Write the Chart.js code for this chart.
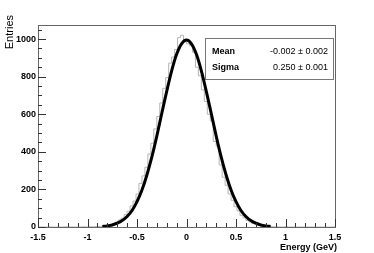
<!DOCTYPE html>
<html><head><meta charset="utf-8">
<script src="https://cdn.jsdelivr.net/npm/chart.js@4"></script>
<style>html,body{margin:0;padding:0;background:#fff;}canvas{display:block;}</style>
</head><body>
<canvas id="c" width="374" height="253"></canvas>
<script>
// Histogram: 100 bins of 0.03 GeV from -1.5 to 1.5 (counts)
const binLow = -1.5, binWidth = 0.03;
const histCounts = [
  0,0,0,0,0,0,0,0,0,0, 1,0,0,0,0,0,1,0,1,1,
  2,3,4,5,10,12,19,25,37,47, 66,84,112,138,175,232,272,318,388,446,
  522,588,660,738,795,872,905,945,1008,1020,
  985,975,965,930,850,805,730,668,600,565, 455,430,330,265,222,176,142,108,86,62,
  49,35,27,18,14,8,6,4,3,2, 1,1,0,0,1,0,0,0,0,0,
  0,0,0,0,0,0,0,0,0,0
];
const fitX = [-0.85,-0.8,-0.75,-0.7,-0.65,-0.6,-0.55,-0.5,-0.45,-0.4,-0.35,-0.3,-0.25,-0.2,-0.15,-0.1,-0.05,0,
              0.05,0.1,0.15,0.2,0.25,0.3,0.35,0.4,0.45,0.5,0.55,0.6,0.65,0.7,0.75,0.8,0.85];
const fitY = [3,6,11,20,34,56,88,135,197,277,373,484,604,722,831,919,975,995,
              975,919,831,722,604,484,373,277,197,135,88,56,34,20,11,6,3];
const xTickValues = [-1.5,-1,-0.5,0,0.5,1,1.5];
const xTickLabels = ['-1.5','-1','-0.5','0','0.5','1','1.5'];
const yTickValues = [0,200,400,600,800,1000];
const yTickLabels = ['0','200','400','600','800','1000'];
const statNames = ['Mean','Sigma'];
const statValues = ['-0.002 \u00b1 0.002','0.250 \u00b1 0.001'];
const xTitle = 'Energy (GeV)';
const yTitle = 'Entries';

const histPts = histCounts.map((v,i)=>({x: binLow + i*binWidth, y: v}));
histPts.push({x: binLow + histCounts.length*binWidth, y: histCounts[histCounts.length-1]});
const fitPts = fitX.map((x,i)=>({x, y: fitY[i]}));

const FONT = '"Liberation Sans", Arial, sans-serif';

const rootDeco = {
  id: 'rootDeco',
  afterDraw(chart){
    const ctx = chart.ctx, a = chart.chartArea;
    const xs = chart.scales.x, ys = chart.scales.y;
    ctx.save();
    // frame
    ctx.strokeStyle = '#666'; ctx.lineWidth = 1;
    ctx.strokeRect(Math.round(a.left)+0.5, Math.round(a.top)+0.5, Math.round(a.right-a.left), Math.round(a.bottom-a.top));
    ctx.strokeStyle = '#333';
    // x ticks (inside, upward)
    for (let i=0;i<=30;i++){
      const v = -1.5 + i*0.1;
      const major = i%5===0;
      const px = Math.round(xs.getPixelForValue(v))+0.5;
      ctx.beginPath(); ctx.moveTo(px, a.bottom); ctx.lineTo(px, a.bottom - (major?8:4)); ctx.stroke();
    }
    // y ticks (inside, rightward)
    for (let v=0; v<=1050; v+=50){
      const major = v%200===0;
      const py = Math.round(ys.getPixelForValue(v))+0.5;
      ctx.beginPath(); ctx.moveTo(a.left, py); ctx.lineTo(a.left + (major?8:4), py); ctx.stroke();
    }
    // stats box
    const bx = 205.5, by = 38.5, bw = 128, bh = 41;
    ctx.fillStyle = '#fff'; ctx.fillRect(bx, by, bw, bh);
    ctx.strokeStyle = '#777'; ctx.strokeRect(bx, by, bw, bh);
    ctx.fillStyle = '#000'; ctx.textBaseline = 'middle';
    ctx.font = 'bold 9px ' + FONT;
    ctx.textAlign = 'left';
    ctx.fillText(statNames[0], 212, 52);
    ctx.fillText(statNames[1], 212, 68);
    ctx.font = '9px ' + FONT;
    ctx.textAlign = 'right';
    ctx.fillText(statValues[0], 328, 52);
    ctx.fillText(statValues[1], 328, 68);
    // axis titles
    ctx.font = 'bold 9px ' + FONT;
    ctx.textAlign = 'right'; ctx.textBaseline = 'alphabetic';
    ctx.fillText(xTitle, 337, 250);
    ctx.save();
    ctx.translate(13, 15); ctx.rotate(-Math.PI/2);
    ctx.font = '11px ' + FONT;
    ctx.textAlign = 'right';
    ctx.fillText(yTitle, 0, 0);
    ctx.restore();
    ctx.restore();
  }
};

new Chart(document.getElementById('c'), {
  type: 'line',
  data: {
    datasets: [
      { data: histPts, stepped: 'after', borderColor: '#b4b4b4', borderWidth: 1, pointRadius: 0, fill: false, order: 2 },
      { data: fitPts, borderColor: '#000', borderWidth: 3, pointRadius: 0, fill: false, cubicInterpolationMode: 'monotone', order: 1 }
    ]
  },
  options: {
    responsive: false, animation: false, events: [],
    layout: { padding: { left: 0, top: 25, right: 39, bottom: 0 } },
    plugins: { legend: { display: false }, tooltip: { enabled: false } },
    scales: {
      x: {
        type: 'linear', min: -1.5, max: 1.5,
        afterBuildTicks: s => { s.ticks = xTickValues.map(v=>({value:v})); },
        afterFit: s => { s.height = 26; },
        grid: { display: false, drawTicks: false },
        border: { display: false },
        ticks: { autoSkip: false, maxRotation: 0, padding: 5, color: '#000',
          font: { family: FONT, size: 9, weight: 'bold' },
          callback: (v) => { const i = xTickValues.indexOf(v); return i>=0 ? xTickLabels[i] : ''; } }
      },
      y: {
        type: 'linear', min: 0, max: 1075,
        afterBuildTicks: s => { s.ticks = yTickValues.map(v=>({value:v})); },
        afterFit: s => { s.width = 38; },
        grid: { display: false, drawTicks: false },
        border: { display: false },
        ticks: { padding: 2, color: '#000',
          font: { family: FONT, size: 9, weight: 'bold' },
          callback: (v) => { const i = yTickValues.indexOf(v); return i>=0 ? yTickLabels[i] : ''; } }
      }
    }
  },
  plugins: [rootDeco]
});
</script>
</body></html>
